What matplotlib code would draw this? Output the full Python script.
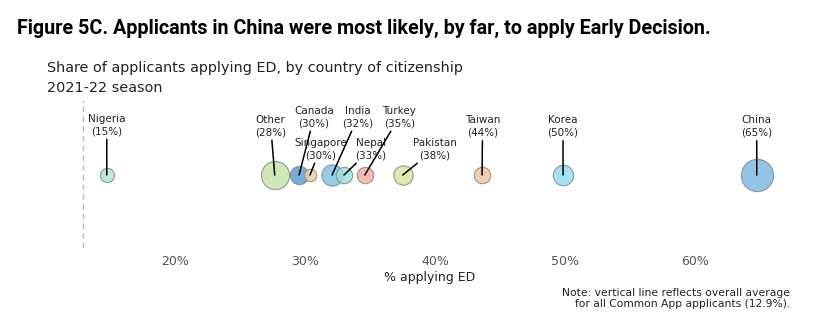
import matplotlib
matplotlib.use("Agg")
import matplotlib.pyplot as plt

# ---- data ----
countries = ["Nigeria", "Other", "Canada", "Singapore", "India", "Nepal",
             "Turkey", "Pakistan", "Taiwan", "Korea", "China"]
pct_ed = [14.75, 27.67, 29.54, 30.38, 32.08, 33.0, 34.6, 37.52, 43.62, 49.85, 64.75]
pct_labels = ["15%", "28%", "30%", "30%", "32%", "33%", "35%", "38%", "44%", "50%", "65%"]
bubble_size = [105, 410, 175, 80, 235, 140, 140, 195, 140, 215, 540]
overall_avg = 12.9
xticks = [20, 30, 40, 50, 60]
xtick_labels = ["20%", "30%", "40%", "50%", "60%"]

# ---- styling / layout ----
colors = ["#b2e4cf", "#c6e6a8", "#5e9fd4", "#e4d49f", "#80c5e7", "#9fe1df",
          "#f7ae9f", "#d9e6a2", "#f2c6a3", "#97dcf2", "#80b9e1"]
# label text-centre offsets in pixels (dx, dy)
label_offsets = [(0, 50), (-4, 49), (15, 58), (10.5, 26), (26, 58), (27, 26),
                 (34.5, 58), (32, 26), (0.5, 48.5), (0, 48.5), (0, 48.5)]

W, H = 822, 323
fig = plt.figure(figsize=(W / 100, H / 100), dpi=100)
ax_l, ax_r, ax_t, ax_b = 60, 800, 100, 248
ax = fig.add_axes([ax_l / W, 1 - ax_b / H, (ax_r - ax_l) / W, (ax_b - ax_t) / H])
px_per_pct = 13.0
x0_pix = 175  # pixel of 20%
ax.set_xlim(20 + (ax_l - x0_pix) / px_per_pct, 20 + (ax_r - x0_pix) / px_per_pct)
ax.set_ylim(-(ax_b - 175), 175 - ax_t)

for s in ax.spines.values():
    s.set_visible(False)
ax.set_yticks([])
ax.set_xticks(xticks)
ax.set_xticklabels(xtick_labels, color="#555555", fontsize=9)
ax.tick_params(axis="x", length=0, pad=5)
ax.set_xlabel("% applying ED", fontsize=9, color="#222222", labelpad=2)

ax.axvline(overall_avg, color="#bbbbbb", lw=1, ls=(0, (4, 3)), zorder=0)

for i, (c, x, s) in enumerate(zip(countries, pct_ed, bubble_size)):
    ax.scatter([x], [0], s=s, color=colors[i], alpha=0.85, edgecolor="#888888",
               linewidth=0.8, zorder=2 + i)

for i, (c, x, lab) in enumerate(zip(countries, pct_ed, pct_labels)):
    dx, dy = label_offsets[i]
    ax.annotate(f"{c}\n({lab})", xy=(x, 0), xytext=(dx, dy),
                textcoords="offset pixels", ha="center", va="center",
                fontsize=7.5, color="#222222", linespacing=1.35,
                arrowprops=dict(arrowstyle="-", color="black", lw=1.1,
                                shrinkA=0, shrinkB=0),
                zorder=20, annotation_clip=False)

fig.text(17 / W, 1 - 28 / H, "Figure 5C. Applicants in China were most likely, by far, to apply Early Decision.",
         fontsize=14.2, fontweight="bold", va="center", ha="left",
         family=["Roboto", "DejaVu Sans"], color="black")
fig.text(47 / W, 1 - 68 / H, "Share of applicants applying ED, by country of citizenship",
         fontsize=10.4, va="center", ha="left", color="#222222")
fig.text(47 / W, 1 - 88 / H, "2021-22 season",
         fontsize=10.4, va="center", ha="left", color="#222222")
fig.text(790 / W, 1 - 298.5 / H,
         "Note: vertical line reflects overall average\nfor all Common App applicants (12.9%).",
         fontsize=7.75, va="center", ha="right", multialignment="right",
         color="#222222", linespacing=1.2)

fig.savefig("out.png", dpi=100)
